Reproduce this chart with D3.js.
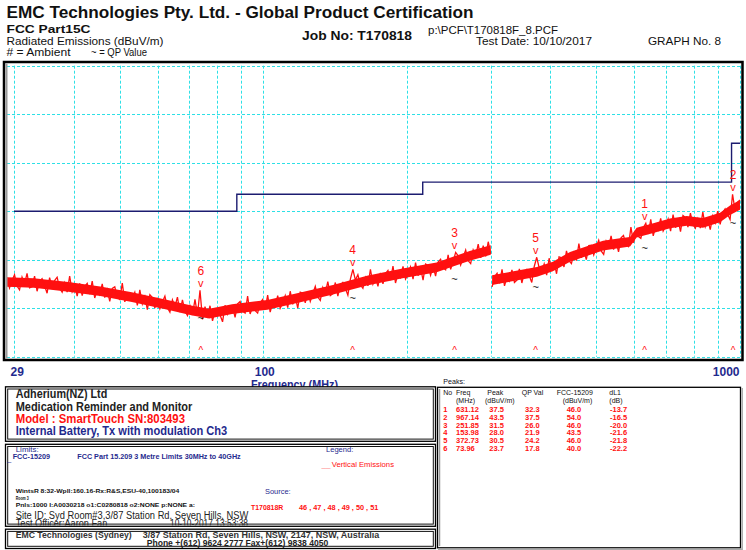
<!DOCTYPE html>
<html>
<head>
<meta charset="utf-8">
<script src="https://cdnjs.cloudflare.com/ajax/libs/d3/7.8.5/d3.min.js"></script>
<style>
    body { margin: 0; background: #fff; }
    svg { display: block; font-family: "Liberation Sans", Arial, sans-serif; }
</style>
</head>
<body>
<div id="chart"></div>
<script>
// receiver sweep 1 (29 - 300 MHz), peak detector, dBuV/m
var sweepAFreqRange = [29, 300];
var sweepALevel = [
    26.3, 24.2, 25.7, 26.9, 24.6, 23.8, 26.4, 25.0, 27.2, 24.2,
    24.4, 26.6, 23.5, 25.6, 26.1, 24.6, 23.1, 26.3, 24.3, 25.7,
    26.4, 24.1, 23.3, 25.2, 23.3, 26.6, 23.4, 24.6, 22.5, 25.1,
    22.6, 24.5, 25.1, 22.9, 25.6, 22.1, 23.8, 22.8, 25.0, 22.2,
    23.8, 21.4, 24.1, 24.4, 22.3, 21.8, 25.2, 21.3, 22.7, 21.7,
    22.0, 23.3, 20.6, 23.8, 20.9, 22.4, 19.7, 22.8, 22.2, 20.0,
    22.1, 19.9, 21.3, 22.5, 20.1, 19.2, 21.7, 20.3, 22.3, 19.2,
    21.7, 19.4, 18.5, 20.5, 18.6, 21.8, 18.6, 23.7, 17.7, 20.3,
    18.4, 20.5, 17.4, 19.4, 19.9, 18.6, 17.2, 20.6, 18.8, 20.4,
    20.3, 18.1, 20.9, 21.4, 19.4, 19.0, 22.5, 18.8, 20.3, 19.5,
    19.0, 21.1, 21.8, 19.8, 22.7, 19.2, 21.1, 20.3, 22.6, 20.0,
    21.1, 22.6, 20.1, 23.5, 20.8, 22.5, 20.0, 23.3, 23.1, 21.1,
    23.4, 21.4, 23.0, 24.5, 22.3, 21.6, 24.3, 23.1, 25.5, 22.6,
    23.0, 25.3, 22.5, 24.7, 25.3, 24.1, 22.7, 26.0, 28.0, 25.8,
    26.9, 24.8, 24.1, 26.3, 24.6, 28.0, 25.0, 26.4, 24.5, 27.3,
    25.0, 27.1, 27.8, 25.8, 28.7, 25.2, 27.1, 26.3, 28.6, 26.0,
    27.0, 28.5, 26.0, 29.4, 26.7, 28.3, 25.8, 29.1, 28.8, 26.8,
    28.7, 26.6, 29.5, 30.1, 28.3, 27.9, 31.0, 28.0, 29.6, 31.5,
    30.8, 28.9, 30.5, 32.0, 29.8, 29.2, 32.0, 30.8, 33.2, 30.4,
    32.9, 30.7, 33.7, 31.2];

// receiver sweep 2 (300 - 1000 MHz)
var sweepBFreqRange = [302, 1000];
var sweepBLevel = [
    24.4, 26.5, 27.2, 25.1, 28.0, 24.6, 26.4, 25.6, 27.9, 25.3,
    25.8, 28.1, 25.2, 27.4, 28.0, 26.7, 25.3, 28.6, 30.5, 28.3,
    27.5, 29.1, 26.8, 30.3, 27.7, 29.5, 27.1, 30.6, 30.4, 28.5,
    31.8, 29.8, 29.2, 31.4, 29.8, 33.3, 30.4, 31.9, 30.0, 32.9,
    33.0, 31.0, 32.6, 34.0, 31.8, 31.1, 33.8, 32.6, 34.9, 32.1,
    33.8, 31.6, 34.5, 35.0, 33.1, 32.7, 36.7, 33.5, 35.4, 34.8,
    34.4, 36.6, 37.5, 35.3, 38.3, 34.9, 36.9, 36.1, 38.5, 35.9,
    36.9, 38.4, 35.9, 39.3, 36.6, 38.3, 35.8, 39.1, 38.7, 36.7,
    39.6, 37.3, 36.5, 38.4, 36.5, 39.8, 36.8, 38.2, 36.2, 39.0,
    37.6, 40.0, 37.3, 39.7, 40.5, 39.4, 38.3, 43.5, 40.2, 41.8,
    42.3];

// noise floor band (low / high edge) of each sweep
var bandAFreq = [29, 33, 39, 45.5, 53, 63, 71, 77, 86, 102, 119, 140, 165, 196, 231, 250, 271, 300];
var bandALow = [24.4, 24.2, 23.4, 22.5, 21.3, 19.7, 18.5, 17.9, 18.8, 19.7, 21.2, 22.8, 24.7, 26.2, 27.4, 28.6, 29.8, 31.0];
var bandAHigh = [26.4, 26.2, 25.4, 24.5, 23.3, 21.7, 20.5, 19.9, 20.8, 21.7, 23.2, 24.8, 26.7, 28.2, 29.4, 30.6, 31.8, 33.0];
var bandBFreq = [302, 318, 375, 405, 440, 516, 560, 588, 607, 658, 713, 773, 836, 908, 953, 1000];
var bandBLow = [24.8, 25.2, 26.5, 27.6, 29.6, 31.9, 32.4, 32.7, 34.6, 35.5, 36.5, 37.0, 36.6, 37.7, 39.2, 40.3];
var bandBHigh = [26.8, 27.2, 28.5, 29.6, 31.6, 33.9, 34.4, 34.7, 36.6, 37.5, 38.5, 39.0, 38.6, 39.7, 41.2, 42.3];

// FCC 15.209 limit (3 m)
var limitFreq = [30, 88, 88, 216, 216, 960, 960, 1000];
var limitLevel = [40, 40, 43.5, 43.5, 46, 46, 54, 54];

// peaks table
var peakNo = [1, 2, 3, 4, 5, 6];
var peakFreq = [631.12, 967.14, 251.85, 153.98, 372.73, 73.96];
var peakLevel = [37.5, 43.5, 31.5, 28.0, 30.5, 23.7];
var peakQP = [32.3, 37.5, 26.0, 21.9, 24.2, 17.8];
var peakLimit = [46.0, 54.0, 46.0, 43.5, 46.0, 40.0];
var peakMargin = [-13.7, -16.5, -20.0, -21.6, -21.8, -22.2];

// axes
var gridFreqs = [30, 40, 50, 60, 70, 80, 90, 100, 200, 300, 400, 500, 600, 700, 800, 900, 1000];
var gridLevels = [10, 20, 30, 40, 50, 60, 70];
var xTickLabels = [29, 100, 1000];

var navy = "#1f2a8e", red = "#ff1010";

var svg = d3.select("#chart").append("svg")
    .attr("width", 746)
    .attr("height", 550);

// set the ranges
var x = d3.scaleLog().domain([29, 1000]).range([7, 740]);
var y = d3.scaleLinear().domain([10, 70]).range([356.7, 65.7]);

function label(g, px, py, s, o) {
    var t = g.append("text")
        .attr("x", px)
        .attr("y", py)
        .text(s)
        .style("font-size", o.size + "px")
        .style("font-weight", o.bold ? "bold" : "normal")
        .style("fill", o.fill || "#111");
    if (o.len) t.attr("textLength", o.len).attr("lengthAdjust", "spacingAndGlyphs");
    if (o.anchor) t.attr("text-anchor", o.anchor);
    return t;
}

// ---- header ----
var head = svg.append("g");
label(head, 6.5, 17.5, "EMC Technologies Pty. Ltd. -  Global Product Certification", {size: 16, bold: true, len: 467});
label(head, 6.5, 33.2, "FCC Part15C", {size: 11.5, bold: true, len: 84});
label(head, 6.5, 45, "Radiated Emissions (dBuV/m)", {size: 10.5, len: 157});
label(head, 6.5, 55.8, "# = Ambient", {size: 10.5, len: 64});
label(head, 91, 55.8, "~ = QP Value", {size: 10.5, len: 56});
label(head, 302, 40, "Job No: T170818", {size: 13, bold: true, len: 110});
label(head, 428, 33.5, "p:\\PCF\\T170818F_8.PCF", {size: 10.5, len: 130});
label(head, 476, 45, "Test Date: 10/10/2017", {size: 11, len: 116});
label(head, 648, 45, "GRAPH No.  8", {size: 11, len: 73});

// ---- grid ----
var grid = svg.append("g")
    .style("stroke", "#2ee0e6")
    .style("stroke-width", 1)
    .style("stroke-dasharray", "3,2");

grid.selectAll("line.v")
    .data(gridFreqs)
    .enter().append("line")
    .attr("class", "v")
    .attr("x1", function (d) { return Math.round(x(d)) + 0.5; })
    .attr("x2", function (d) { return Math.round(x(d)) + 0.5; })
    .attr("y1", y(70))
    .attr("y2", y(10));

grid.selectAll("line.h")
    .data(gridLevels)
    .enter().append("line")
    .attr("class", "h")
    .attr("x1", x(29))
    .attr("x2", x(1000))
    .attr("y1", function (d) { return Math.round(y(d)) + 0.5; })
    .attr("y2", function (d) { return Math.round(y(d)) + 0.5; });

// ---- limit line ----
var limitLine = d3.line()
    .x(function (d, i) { return x(limitFreq[i]); })
    .y(function (d) { return y(d); });

svg.append("path")
    .datum(limitLevel)
    .attr("d", limitLine)
    .style("fill", "none")
    .style("stroke", "#1c1c70")
    .style("stroke-width", 1.4);

// ---- emissions trace ----
function sweepFreqs(range, n) {
    // sweep points are evenly spaced on the log axis
    return d3.range(n).map(function (i) {
        return range[0] * Math.pow(range[1] / range[0], i / (n - 1));
    });
}

function drawBand(freqs, lo, hi) {
    var area = d3.area()
        .x(function (d, i) { return x(freqs[i]); })
        .y0(function (d, i) { return y(lo[i]); })
        .y1(function (d, i) { return y(hi[i]); });
    svg.append("path")
        .datum(lo)
        .attr("d", area)
        .style("fill", red)
        .style("stroke", "none");
}

function drawSweep(range, levels) {
    var freqs = sweepFreqs(range, levels.length);
    var line = d3.line()
        .x(function (d, i) { return x(freqs[i]); })
        .y(function (d) { return y(d); });
    svg.append("path")
        .datum(levels)
        .attr("d", line)
        .style("fill", "none")
        .style("stroke", red)
        .style("stroke-width", 1.3);
}

drawBand(bandAFreq, bandALow, bandAHigh);
drawBand(bandBFreq, bandBLow, bandBHigh);
drawSweep(sweepAFreqRange, sweepALevel);
drawSweep(sweepBFreqRange, sweepBLevel);

// ---- peak markers ----
var marks = svg.append("g").attr("text-anchor", "middle");
peakNo.forEach(function (n, i) {
    var px = x(peakFreq[i]);
    label(marks, px, y(peakLevel[i]) - 15, n, {size: 12, fill: red});
    label(marks, px, y(peakLevel[i]) - 3.5, "v", {size: 11, fill: red});
    label(marks, px, y(peakQP[i]) + 3.5, "~", {size: 11, fill: "#111"});
    label(marks, px, 354, "^", {size: 10, fill: red});
});

// ---- plot frame ----
svg.append("rect")
    .attr("x", 4).attr("y", 62)
    .attr("width", 738.5).attr("height", 298)
    .style("fill", "none")
    .style("stroke", "#000")
    .style("stroke-width", 2.5);
svg.append("rect")
    .attr("x", 5.5).attr("y", 63.5)
    .attr("width", 2).attr("height", 295)
    .style("fill", "#9a9a9a");

// ---- X axis ----
var xAxis = svg.append("g")
    .attr("transform", "translate(0,376)")
    .call(d3.axisBottom(x).tickValues(xTickLabels).tickFormat(d3.format("d")).tickSize(0).tickPadding(0));
xAxis.select(".domain").remove();
xAxis.selectAll("text")
    .attr("y", 0)
    .attr("dy", 0)
    .attr("dx", function (d, i) { return i === 0 ? 3 : (i === 2 ? -1 : 1); })
    .attr("text-anchor", function (d, i) { return i === 0 ? "start" : (i === 2 ? "end" : "middle"); })
    .style("font-family", "'Liberation Sans', Arial, sans-serif")
    .style("font-size", "12px")
    .style("font-weight", "bold")
    .style("fill", navy);

label(svg, 251, 388.5, "Frequency (MHz)", {size: 12, bold: true, fill: navy, len: 87});

// ---- info boxes ----
function box(bx, by, bw, bh) {
    svg.append("rect")
        .attr("x", bx).attr("y", by)
        .attr("width", bw).attr("height", bh)
        .style("fill", "#fff")
        .style("stroke", "#000")
        .style("stroke-width", 1.3);
    svg.append("rect")
        .attr("x", bx + 2.2).attr("y", by + 2.2)
        .attr("width", bw - 4.4).attr("height", bh - 4.4)
        .style("fill", "none")
        .style("stroke", "#111")
        .style("stroke-width", 1);
}

box(5.5, 386.8, 430, 54.5);
box(5.5, 444.3, 430, 82);
box(5.5, 529.2, 430, 19.3);

// peaks box
svg.append("rect")
    .attr("x", 437.5).attr("y", 387.3)
    .attr("width", 303).attr("height", 160.5)
    .style("fill", "#fff")
    .style("stroke", "#000")
    .style("stroke-width", 1.3);
svg.append("path")
    .attr("d", "M439.5,389V546")
    .style("stroke", "#999")
    .style("stroke-width", 1.5);
svg.append("path")
    .attr("d", "M438,549.2H742.2V388")
    .style("fill", "none")
    .style("stroke", "#aaa")
    .style("stroke-width", 1.5);

// product box
var b1 = svg.append("g");
label(b1, 15.7, 398.3, "Adherium(NZ) Ltd", {size: 12, bold: true, fill: "#222", len: 91.6});
label(b1, 15.7, 411, "Medication Reminder and Monitor", {size: 12, bold: true, fill: "#222", len: 176.6});
label(b1, 15.7, 423.3, "Model : SmartTouch   SN:803493", {size: 12, bold: true, fill: red, len: 169.3});
label(b1, 15.7, 435.3, "Internal Battery,  Tx with modulation Ch3", {size: 12, bold: true, fill: navy, len: 211.6});

// limits / legend / source box
svg.append("clipPath").attr("id", "clipB2")
    .append("rect").attr("x", 7).attr("y", 446).attr("width", 427).attr("height", 79.5);
var b2 = svg.append("g").attr("clip-path", "url(#clipB2)");
label(b2, 15.7, 451.7, "Limits:", {size: 7.5, fill: navy, len: 23});
label(b2, 6.7, 461, "_", {size: 8, fill: navy});
label(b2, 12.7, 459.3, "FCC-15209", {size: 7.5, bold: true, fill: navy, len: 37.3});
label(b2, 77.3, 459.3, "FCC Part 15.209 3 Metre Limits 30MHz to 40GHz", {size: 7.5, bold: true, fill: navy, len: 163.4});
label(b2, 326, 451.7, "Legend:", {size: 7.5, fill: navy, len: 27.3});
label(b2, 321.5, 467.5, "__", {size: 8, bold: true, fill: red, len: 9});
label(b2, 331.7, 466.7, "Vertical Emissions", {size: 8, fill: red, len: 62.3});
label(b2, 15.7, 492.7, "WintsR 8:32-Wpll:160.16-Rx:R&S,ESU-40,100183/04", {size: 5.8, bold: true, fill: "#111", len: 163.6});
label(b2, 15.7, 499.5, "Room 3", {size: 5.8, bold: true, fill: "#111", len: 13});
label(b2, 15.7, 506.7, "Pnls:1000 I:A0030218 o1:C0280818  o2:NONE p:NONE a:", {size: 5.8, bold: true, fill: "#111", len: 179.3});
label(b2, 265, 494, "Source:", {size: 7.5, fill: navy, len: 25.7});
label(b2, 251, 510, "T170818R", {size: 7.5, bold: true, fill: red, len: 32.3});
label(b2, 299, 510, "46 , 47 , 48 , 49 , 50 , 51", {size: 7.5, bold: true, fill: red, len: 79.3});
label(b2, 15.7, 519, "Site ID: Syd Room#3,3/87 Station Rd, Seven Hills, NSW", {size: 10, fill: "#222", len: 232.6});
label(b2, 15.7, 527, "Test Officer:Aaron Fan", {size: 10, fill: "#222", len: 91.6});
label(b2, 170, 527, "10-10-2017 13:53:38", {size: 10, fill: "#222", len: 78});

// address box
var b3 = svg.append("g");
label(b3, 15.7, 538, "EMC Technologies (Sydney)", {size: 9.5, bold: true, fill: "#333", len: 116});
label(b3, 142.7, 538, "3/87 Station Rd, Seven Hills, NSW, 2147, NSW, Australia", {size: 9.5, bold: true, fill: "#333", len: 236.6});
label(b3, 146.7, 546.3, "Phone +(612) 9624 2777 Fax+(612) 9838 4050", {size: 9, bold: true, fill: "#222", len: 181.6});

// ---- peaks table ----
var tbl = svg.append("g");
label(tbl, 443.3, 383.5, "Peaks:", {size: 7, fill: "#112", len: 21.7});
var colX = [443.3, 456, 489.3, 525, 566.7, 610];
var hdr1 = [["No", 443.3], ["Freq", 456], ["Peak", 487.3], ["QP Val", 521.7], ["FCC-15209", 556.7], ["dL1", 609.3]];
var hdr2 = [["(MHz)", 456], ["(dBuV/m)", 485], ["(dBuV/m)", 562.7], ["(dB)", 609.3]];
hdr1.forEach(function (h) { label(tbl, h[1], 394.8, h[0], {size: 7, fill: "#111"}); });
hdr2.forEach(function (h) { label(tbl, h[1], 403, h[0], {size: 7, fill: "#111"}); });

peakNo.forEach(function (n, i) {
    var ty = 412.3 + i * 7.7;
    var cells = [n, peakFreq[i].toFixed(2), peakLevel[i].toFixed(1), peakQP[i].toFixed(1),
        peakLimit[i].toFixed(1), peakMargin[i].toFixed(1)];
    cells.forEach(function (c, j) {
        label(tbl, colX[j], ty, c, {size: 7.5, bold: true, fill: red});
    });
});
</script>
</body>
</html>
